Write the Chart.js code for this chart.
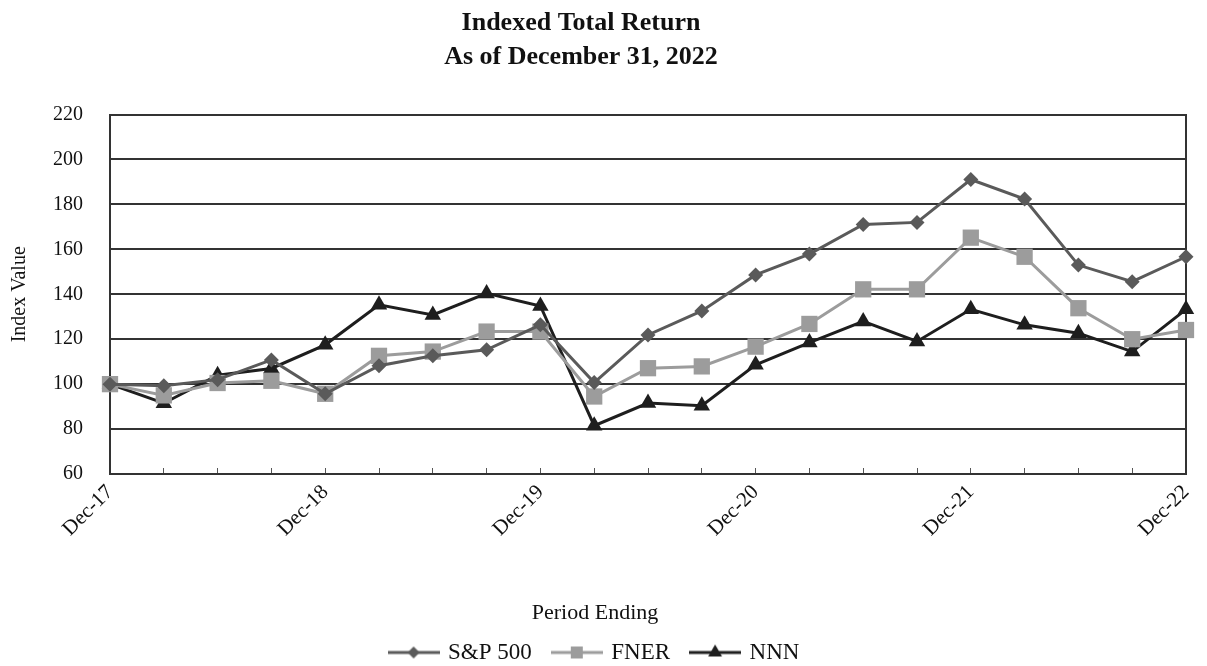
<!DOCTYPE html>
<html>
<head>
<meta charset="utf-8">
<script src="https://cdn.jsdelivr.net/npm/chart.js@4.4.1/dist/chart.umd.min.js"></script>
<style>
  html, body { margin: 0; padding: 0; background: #fff; }
  #wrap { width: 1207px; height: 666px; }
</style>
</head>
<body>
<div id="wrap"><canvas id="myChart"></canvas></div>
<script>
// quarterly index values, Dec-17 = 100
const quarters = ['Dec-17', 'Mar-18', 'Jun-18', 'Sep-18', 'Dec-18', 'Mar-19', 'Jun-19', 'Sep-19',
  'Dec-19', 'Mar-20', 'Jun-20', 'Sep-20', 'Dec-20', 'Mar-21', 'Jun-21', 'Sep-21',
  'Dec-21', 'Mar-22', 'Jun-22', 'Sep-22', 'Dec-22'];
const sp500 = [100, 99.3, 102, 110.8, 95.7, 108.2, 112.6, 115.3, 126.4, 100.7, 121.9, 132.6,
  148.6, 157.9, 171.1, 172, 191.1, 182.4, 153, 145.6, 156.7];
const fner = [100, 95, 100.5, 101.5, 95.7, 112.6, 114.5, 123.4, 123.4, 94.5, 107.1, 107.9,
  116.7, 126.8, 142.2, 142.2, 165.2, 156.7, 133.8, 120, 124.1];
const nnn = [100, 91.5, 104, 107, 117.5, 135.3, 130.8, 140.4, 134.8, 81.5, 91.6, 90.4,
  108.6, 118.5, 127.9, 119, 133.3, 126.4, 122.7, 114.5, 133.3];
const seriesNames = ['S&P 500', 'FNER', 'NNN'];
const yTicks = [60, 80, 100, 120, 140, 160, 180, 200, 220];

const serif = "'Liberation Serif', 'Times New Roman', serif";
const ink = '#111';
const colors = ['#5a5a5a', '#9c9c9c', '#1e1e1e'];
const styles = ['rectRot', 'rect', 'triangle'];
const radii = [7.5, 11.5, 9.5];
const legendRadii = [6, 8.5, 8];

// small line+marker images for the legend
function legendMark(i) {
  const c = document.createElement('canvas');
  c.width = 52; c.height = 20;
  const g = c.getContext('2d');
  g.strokeStyle = colors[i];
  g.lineWidth = 3;
  g.beginPath(); g.moveTo(0, 10); g.lineTo(52, 10); g.stroke();
  g.fillStyle = colors[i];
  Chart.helpers.drawPoint(g, { pointStyle: styles[i], radius: legendRadii[i], borderWidth: 0, rotation: 0 }, 26, 10);
  return c;
}
const marks = [0, 1, 2].map(legendMark);

const allData = [sp500, fner, nnn];
const datasets = allData.map((d, i) => ({
  label: seriesNames[i],
  data: d,
  borderColor: colors[i],
  backgroundColor: colors[i],
  borderWidth: 3,
  pointStyle: styles[i],
  pointRadius: radii[i],
  pointBorderWidth: 0,
  pointHoverRadius: radii[i],
  tension: 0,
  clip: false
}));

// move title left a bit, like the original
const nudge = {
  id: 'nudge',
  afterLayout(chart) {
    chart.titleBlock.left -= 14;
    chart.titleBlock.right -= 14;
  }
};

const ctx = document.getElementById('myChart').getContext('2d');
new Chart(ctx, {
  type: 'line',
  data: { labels: quarters, datasets: datasets },
  options: {
    responsive: true,
    maintainAspectRatio: false,
    animation: false,
    events: [],
    layout: { padding: { left: 4, right: 21, top: 0, bottom: -8 } },
    plugins: {
      title: {
        display: true,
        text: ['Indexed Total Return', 'As of December 31, 2022'],
        color: ink,
        font: { family: serif, size: 26, weight: 'bold', lineHeight: 1.28 },
        padding: { top: 7, bottom: 41 }
      },
      legend: {
        position: 'bottom',
        title: {
          display: true,
          text: 'Period Ending',
          color: ink,
          font: { family: serif, size: 22, lineHeight: 1 },
          padding: { top: 0, bottom: -5 }
        },
        labels: {
          usePointStyle: true,
          pointStyleWidth: 46,
          padding: 22,
          color: ink,
          font: { family: serif, size: 23 },
          generateLabels: chart => chart.data.datasets.map((ds, i) => ({
            text: ds.label,
            pointStyle: marks[i],
            fillStyle: colors[i],
            strokeStyle: colors[i],
            lineWidth: 0,
            fontColor: ink,
            hidden: false,
            datasetIndex: i
          }))
        }
      },
      tooltip: { enabled: false }
    },
    scales: {
      x: {
        grid: { display: true, drawOnChartArea: false, drawTicks: true, tickLength: -6, color: '#555', lineWidth: 1 },
        border: { display: true, color: '#333', width: 2 },
        ticks: {
          autoSkip: false,
          maxRotation: 45,
          minRotation: 45,
          padding: 12,
          color: ink,
          font: { family: serif, size: 21 },
          callback: (v, i) => (i % 4 === 0 ? quarters[i] : '')
        },
        afterFit: s => { s.height = 128; s.paddingRight = 0; }
      },
      y: {
        min: yTicks[0],
        max: yTicks[yTicks.length - 1],
        afterBuildTicks: s => { s.ticks = yTicks.map(v => ({ value: v })); },
        grid: { color: '#333', lineWidth: 2, drawTicks: false },
        border: { display: true, color: '#333', width: 2 },
        ticks: { padding: 27, color: ink, font: { family: serif, size: 20 } },
        title: {
          display: true,
          text: 'Index Value',
          color: ink,
          font: { family: serif, size: 20 },
          padding: { top: 4, bottom: 0 }
        },
        afterFit: s => { s.width = 106; }
      },
      y2: {
        position: 'right',
        min: 60,
        max: 220,
        grid: { display: false, drawTicks: false },
        ticks: { display: false },
        border: { display: true, color: '#333', width: 2 },
        afterFit: s => { s.width = 0; }
      }
    }
  },
  plugins: [nudge]
});
</script>
</body>
</html>
